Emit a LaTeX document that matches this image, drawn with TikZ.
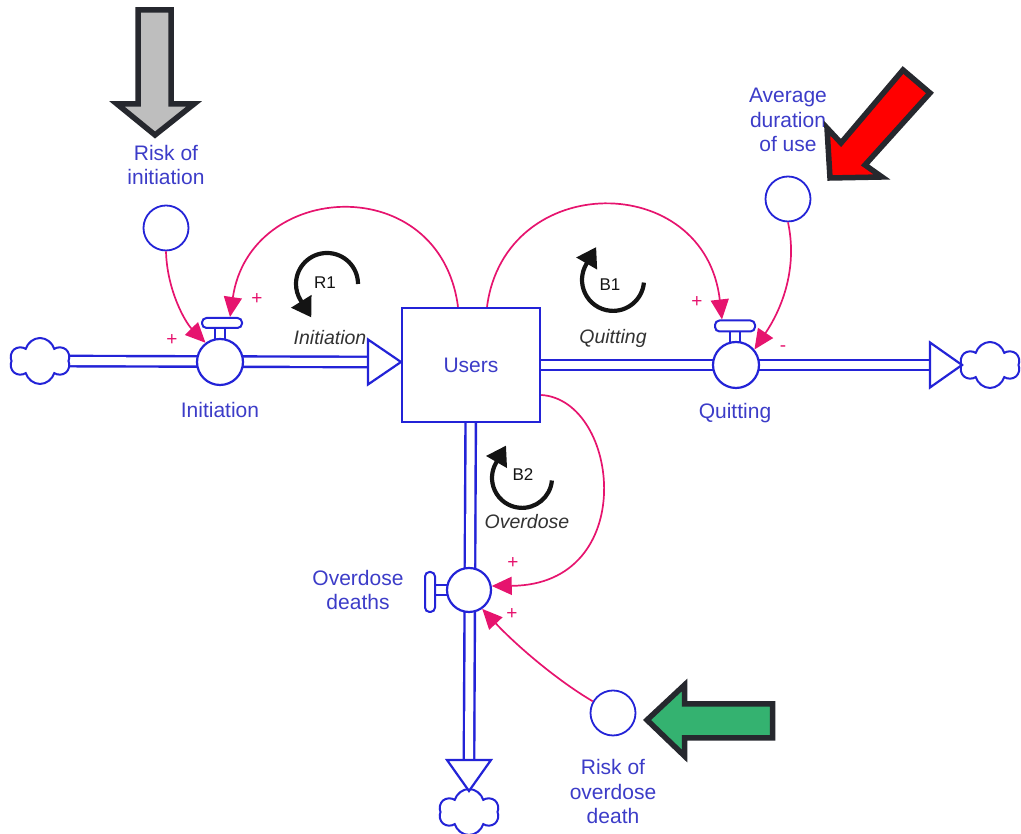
\documentclass[tikz,border=0pt]{standalone}
\usepackage{fontspec}
\setmainfont{Liberation Sans}
\usetikzlibrary{shapes.symbols,arrows.meta,backgrounds}
\definecolor{flowblue}{RGB}{35,35,215}
\definecolor{textblue}{RGB}{60,60,200}
\definecolor{linkpink}{RGB}{230,20,110}
\definecolor{loopink}{RGB}{20,20,20}
\definecolor{italgray}{RGB}{50,50,50}
\definecolor{arrowgray}{RGB}{190,190,190}
\definecolor{arrowred}{RGB}{255,0,0}
\definecolor{arrowgreen}{RGB}{52,178,112}
\definecolor{arrowedge}{RGB}{38,40,46}
\begin{document}
\begin{tikzpicture}[x=1pt,y=1pt,
  pipe/.style={draw=flowblue, line width=2.4pt, double=white, double distance=8pt},
  stemline/.style={draw=flowblue, line width=2pt},
  blueline/.style={draw=flowblue, line width=2.2pt, fill=white, line join=miter},
  valvebody/.style={circle, draw=flowblue, line width=2.2pt, fill=white, minimum size=46pt, inner sep=0pt},
  valvehandle/.style={rectangle, rounded corners=4.5pt, draw=flowblue, line width=2pt, fill=white, inner sep=0pt},
  auxvar/.style={circle, draw=flowblue, line width=1.8pt, fill=white, minimum size=45pt, inner sep=0pt},
  stockbox/.style={rectangle, draw=flowblue, line width=2.4pt, fill=white, minimum width=138pt, minimum height=114pt, inner sep=0pt, text=textblue, font=\fontsize{21}{24}\selectfont},
  sourcecloud/.style={cloud, cloud puffs=6, cloud puff arc=150, aspect=1.25, draw=flowblue, line width=2pt, fill=white, minimum width=60pt, minimum height=46pt, inner sep=0pt},
  lbl/.style={text=textblue, font=\fontsize{21}{24.5}\selectfont, align=center, inner sep=0pt},
  looplbl/.style={text=italgray, font=\fontsize{19.5}{22}\selectfont\itshape, inner sep=0pt},
  loopid/.style={text=loopink, font=\fontsize{17}{20}\selectfont, inner sep=0pt},
  polsign/.style={text=linkpink, font=\fontsize{19}{20}\selectfont, inner sep=0pt},
  link/.style={draw=linkpink, line width=1.7pt, -{Triangle[length=20pt,width=18pt]}},
  loopring/.style={draw=loopink, line width=4.2pt, -{Triangle[length=19pt,width=23pt]}},
  bigarrow/.style={line width=5.5pt, draw=arrowedge, line join=miter},
]
\useasboundingbox (0,0) rectangle (1021,834);

% ---- stock, valves, clouds, auxiliaries
\node[stockbox] (users) at (471,469) {Users};
\node[valvebody] (iv) at (220,472) {};
\node[valvehandle, minimum width=40pt, minimum height=10pt] (ih) at (222,511) {};
\node[valvebody] (qv) at (736,469) {};
\node[valvehandle, minimum width=40pt, minimum height=11pt] (qh) at (735,508) {};
\node[valvebody, minimum size=44pt] (ov) at (469,244) {};
\node[valvehandle, minimum width=10pt, minimum height=40pt] (oh) at (430,242) {};
\node[sourcecloud] (cloudL) at (40,473) {};
\node[sourcecloud] (cloudR) at (990,469) {};
\node[sourcecloud] (cloudB) at (469,22) {};
\node[auxvar] (ri) at (166,606) {};
\node[auxvar] (ad) at (788,635) {};
\node[auxvar] (rod) at (613,121) {};

% ---- arrowhead coordinates of the pipes
\coordinate (tL) at (368,472);
\coordinate (tR) at (930,469);
\coordinate (tB) at (469,74);

\begin{scope}[on background layer]
  \draw[pipe] (cloudL) -- (tL);
  \draw[pipe] (users) -- (tR);
  \draw[pipe] (users) -- (tB);
  % valve stems
  \draw[stemline] (215,490) -- (215,508) (225,490) -- (225,508);
  \draw[stemline] (730,487) -- (730,504) (740,487) -- (740,504);
  \draw[stemline] (433,239) -- (450,239) (433,249) -- (450,249);
\end{scope}

% ---- open triangle heads of the pipes
\draw[blueline] (tL) ++(0,22.5) -- ++(0,-45) -- (401,472) -- cycle;
\draw[blueline] (tR) ++(0,22.5) -- ++(0,-45) -- (962,469) -- cycle;
\draw[blueline] (tB) ++(-22,0) -- ++(44,0) -- (469,43) -- cycle;

% ---- labels of variables
\node[lbl] (liv) at (220,424) {Initiation};
\node[lbl] (lqv) at (735,421) {Quitting};
\node[lbl] (lov) at (358,244) {Overdose\\deaths};
\node[lbl] (lri) at (166,669) {Risk of\\initiation};
\node[lbl] (lad) at (788,714) {Average\\duration\\of use};
\node[lbl] (lrod) at (613,42) {Risk of\\overdose\\death};

% ---- causal links
\draw[link] (ri.south) .. controls (167,544) and (185,512) .. (iv.127);
\draw[link] ([xshift=-13pt]users.north) .. controls (440,664) and (250,654) .. ([xshift=8pt]ih.north);
\draw[link] ([xshift=16pt]users.north) .. controls (505,664) and (705,664) .. ([xshift=-13pt]qh.north);
\draw[link] (ad.south) .. controls (797,570) and (785,530) .. (qv.40);
\draw[link] ([yshift=-30pt]users.east) .. controls (620,434) and (640,249) .. (ov.10);
\draw[link] (rod.150) .. controls (555,155) and (515,190) .. (ov.-55);

% ---- polarities
\node[polsign] (p1) at (172,494) {+};
\node[polsign] (p2) at (257,535) {+};
\node[polsign] (p3) at (697,532) {+};
\node[polsign] (p4) at (783,485) {-};
\node[polsign] (p5) at (513,271) {+};
\node[polsign] (p6) at (512,220) {+};

% ---- loop symbols
\draw[loopring] (358,550) arc[start angle=0, end angle=212, radius=31] -- ++(10.6,-17);
\node[loopid] (r1) at (325,551) {R1};
\node[looplbl] (r1l) at (330,496) {Initiation};
\draw[loopring] (643.9,551.4) arc[start angle=-5, end angle=-210, radius=31] -- ++(10,17.3);
\node[loopid] (b1) at (610,549) {B1};
\node[looplbl] (b1l) at (613,496) {Quitting};
\draw[loopring] (551.9,353.5) arc[start angle=-5, end angle=-210, radius=30] -- ++(10,17.3);
\node[loopid] (b2) at (523,359) {B2};
\node[looplbl] (b2l) at (527,312) {Overdose};

% ---- highlight arrows
\draw[bigarrow, fill=arrowgray] (138,824) -- (171,824) -- (171,730) -- (194,730) -- (155,699) -- (117,730) -- (138,730) -- cycle;
\draw[bigarrow, fill=arrowred] (830,656) -- (827,706) -- (841,691) -- (903,764) -- (930,741) -- (865,669) -- (882,657) -- cycle;
\draw[bigarrow, fill=arrowgreen] (647,114) -- (684.5,149) -- (684.5,130) -- (772.5,130) -- (772.5,96) -- (684.5,96) -- (684.5,78) -- cycle;
\end{tikzpicture}
\end{document}
